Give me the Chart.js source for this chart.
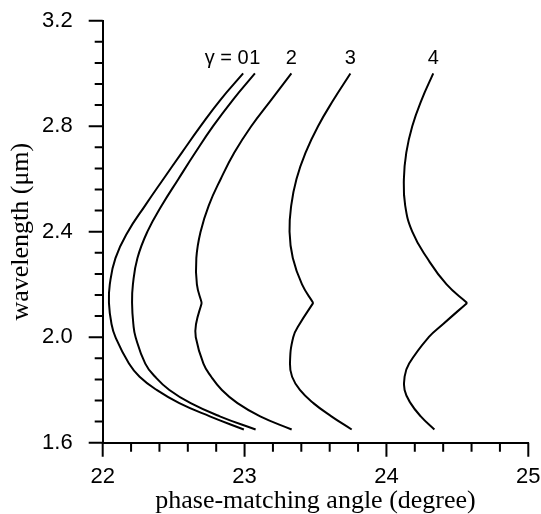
<!DOCTYPE html>
<html>
<head>
<meta charset="utf-8">
<script src="https://cdn.jsdelivr.net/npm/chart.js@4/dist/chart.umd.min.js"></script>
<style>
  html, body { margin: 0; padding: 0; background: #fff; }
  canvas { display: block; }
</style>
</head>
<body>
<canvas id="chart" width="541" height="514"></canvas>
<script>
// wavelength (um) sampled along every curve; 2.13 is the kink
const wavelength = [3.0, 2.9, 2.8, 2.7, 2.6, 2.5, 2.4, 2.3, 2.2, 2.13, 2.05, 2.0, 1.9, 1.85, 1.8, 1.75, 1.7, 1.65];
const kinkIndex = 9;

// phase-matching angle (degree) for each gamma
const gamma0 = [22.99, 22.83, 22.69, 22.558, 22.428, 22.30, 22.178, 22.09, 22.05, 22.044, 22.062, 22.09, 22.185, 22.26, 22.38, 22.54, 22.755, 22.995];
const gamma1 = [23.073, 22.918, 22.778, 22.653, 22.534, 22.417, 22.315, 22.245, 22.213, 22.207, 22.216, 22.232, 22.30, 22.37, 22.47, 22.62, 22.825, 23.078];
const gamma2 = [23.33, 23.188, 23.047, 22.928, 22.832, 22.748, 22.69, 22.66, 22.664, 22.698, 22.658, 22.656, 22.71, 22.765, 22.84, 22.95, 23.11, 23.332];
const gamma3 = [23.746, 23.627, 23.518, 23.43, 23.366, 23.329, 23.317, 23.34, 23.405, 23.484, 23.388, 23.343, 23.32, 23.335, 23.39, 23.485, 23.612, 23.755];
const gamma4 = [24.33, 24.248, 24.182, 24.14, 24.123, 24.132, 24.182, 24.287, 24.424, 24.569, 24.40, 24.298, 24.16, 24.128, 24.128, 24.17, 24.242, 24.338];

const curves = [gamma0, gamma1, gamma2, gamma3, gamma4];
const curveLabels = ['0', '1', '2', '3', '4'];
const kinked = [false, false, true, true, true];

const xTicks = [22, 23, 24, 25];
const yTicks = [1.6, 2.0, 2.4, 2.8, 3.2];

function points(angles, from, to) {
    const pts = [];
    for (let i = from; i <= to; i++) pts.push({ x: angles[i], y: wavelength[i] });
    return pts;
}

const datasets = [];
curves.forEach((angles, i) => {
    const style = {
        borderColor: '#000', borderWidth: 2, pointRadius: 0, pointHoverRadius: 0,
        tension: 0.45, cubicInterpolationMode: 'default', fill: false
    };
    if (kinked[i]) {
        datasets.push({ ...style, data: points(angles, 0, kinkIndex) });
        datasets.push({ ...style, data: points(angles, kinkIndex, wavelength.length - 1) });
    } else {
        datasets.push({ ...style, data: points(angles, 0, wavelength.length - 1) });
    }
});

// make sure the bezier control points of every line are computed
const smoothLines = {
    id: 'smoothLines',
    beforeDatasetsDraw(chart) {
        chart.getSortedVisibleDatasetMetas().forEach(meta => {
            if (meta.dataset && meta.dataset.updateControlPoints) {
                meta.dataset.updateControlPoints(chart.chartArea, 'x');
            }
        });
    }
};

// minor / major tick marks pointing outward, plus curve labels
const tickMarks = {
    id: 'tickMarks',
    afterDraw(chart) {
        const { ctx, chartArea, scales: { x, y } } = chart;
        ctx.save();
        ctx.strokeStyle = '#000';
        ctx.lineWidth = 2;
        ctx.beginPath();
        for (let k = 0; k <= 15; k++) {
            const px = x.getPixelForValue(22 + k * 0.2);
            const len = k % 5 === 0 ? 14 : 9;
            ctx.moveTo(px, chartArea.bottom);
            ctx.lineTo(px, chartArea.bottom + len);
        }
        for (let k = 0; k <= 20; k++) {
            const py = y.getPixelForValue(1.6 + k * 0.08);
            const len = k % 5 === 0 ? 14 : 8;
            ctx.moveTo(chartArea.left, py);
            ctx.lineTo(chartArea.left - len, py);
        }
        ctx.stroke();

        ctx.fillStyle = '#000';
        ctx.font = '20px "Liberation Sans", Arial, sans-serif';
        ctx.textBaseline = 'middle';
        ctx.textAlign = 'center';
        curves.forEach((angles, i) => {
            const px = x.getPixelForValue(angles[0]);
            const py = y.getPixelForValue(3.055);
            ctx.fillText(curveLabels[i], px, py);
            if (i === 0) {
                const w = ctx.measureText(curveLabels[i]).width;
                ctx.textAlign = 'right';
                ctx.fillText('γ = ', px - w / 2, py);
                ctx.textAlign = 'center';
            }
        });
        ctx.restore();
    }
};

new Chart(document.getElementById('chart'), {
    type: 'line',
    data: { datasets },
    plugins: [smoothLines, tickMarks],
    options: {
        responsive: false,
        animation: false,
        parsing: false,
        elements: { line: { tension: 0.45, capBezierPoints: false } },
        layout: { padding: { top: 20.7, right: 12.7, left: 0, bottom: 0 } },
        plugins: { legend: { display: false }, tooltip: { enabled: false } },
        scales: {
            x: {
                type: 'linear',
                min: 22,
                max: 25,
                afterBuildTicks: s => { s.ticks = xTicks.map(v => ({ value: v })); },
                afterFit: s => { s.height = 71.3; s.paddingLeft = 0; s.paddingRight = 0; },
                grid: { display: false },
                border: { display: true, color: '#000', width: 2 },
                ticks: {
                    color: '#000',
                    padding: 13,
                    maxRotation: 0,
                    font: { family: '"Liberation Sans", Arial, sans-serif', size: 22 }
                },
                title: {
                    display: true,
                    text: 'phase-matching angle (degree)',
                    color: '#000',
                    padding: { top: 0, bottom: 0 },
                    font: { family: '"Liberation Serif", "Times New Roman", serif', size: 26, lineHeight: 1 }
                }
            },
            y: {
                type: 'linear',
                min: 1.6,
                max: 3.2,
                afterBuildTicks: s => { s.ticks = yTicks.map(v => ({ value: v })); },
                afterFit: s => { s.width = 102.7; s.paddingTop = 0; s.paddingBottom = 0; },
                grid: { display: false },
                border: { display: true, color: '#000', width: 2 },
                ticks: {
                    color: '#000',
                    padding: 22,
                    callback: v => v.toFixed(1),
                    font: { family: '"Liberation Sans", Arial, sans-serif', size: 22 }
                },
                title: {
                    display: true,
                    text: 'wavelength (μm)',
                    color: '#000',
                    padding: { top: 8, bottom: 0 },
                    font: { family: '"Liberation Serif", "Times New Roman", serif', size: 26, lineHeight: 1 }
                }
            }
        }
    }
});
</script>
</body>
</html>
